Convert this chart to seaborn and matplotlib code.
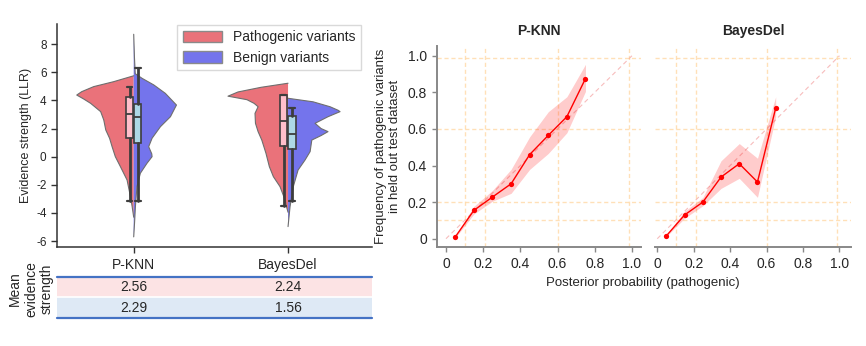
import numpy as np
import pandas as pd
import matplotlib
matplotlib.use("Agg")
import matplotlib.pyplot as plt
from matplotlib.patches import Patch
import seaborn as sns

# ---------------- data ----------------
tools = ["P-KNN", "BayesDel"]
groups = ["Pathogenic variants", "Benign variants"]

# violin half-profiles (LLR value, half width in category units)
pknn_path_y = [5.75, 5.33, 4.98, 4.62, 4.38, 4.1, 3.79, 3.2, 2.61, 1.9, 1.3, 0.71, 0.0, -0.71, -1.66, -2.84, -3.55, -4.3]
pknn_path_w = [0, 0.13, 0.259, 0.337, 0.369, 0.324, 0.279, 0.214, 0.194, 0.181, 0.156, 0.14, 0.119, 0.086, 0.043, 0.021, 0.01, 0]
pknn_ben_y = [8.7, 7.0, 5.9, 5.57, 5.1, 4.5, 3.67, 2.84, 2.13, 1.31, 0.71, 0.2, 0.0, -0.47, -1.18, -2.13, -3.55, -4.6, -5.7]
pknn_ben_w = [0, 0.005, 0.01, 0.054, 0.13, 0.205, 0.277, 0.238, 0.173, 0.119, 0.097, 0.117, 0.119, 0.086, 0.043, 0.021, 0.011, 0.006, 0]
bd_path_y = [5.22, 4.93, 4.6, 4.3, 4.05, 3.79, 3.55, 3.08, 2.37, 1.78, 1.18, 0.24, -0.71, -1.42, -2.13, -3.08, -3.55, -3.95]
bd_path_w = [0, 0.175, 0.324, 0.389, 0.266, 0.22, 0.194, 0.214, 0.211, 0.194, 0.17, 0.143, 0.121, 0.095, 0.052, 0.019, 0.01, 0]
bd_ben_y = [4.15, 3.9, 3.55, 3.3, 3.2, 2.84, 2.37, 2.0, 1.78, 1.5, 1.18, 0.36, -0.24, -0.95, -2.13, -3.55, -4.97]
bd_ben_w = [0, 0.162, 0.272, 0.324, 0.337, 0.259, 0.175, 0.214, 0.259, 0.214, 0.154, 0.143, 0.11, 0.065, 0.034, 0.013, 0]

# box stats: whisker low, Q1, median, Q3, whisker high
pknn_path_box = [-3.15, 1.31, 3.01, 4.22, 4.93]
pknn_ben_box = [-3.13, 0.95, 2.85, 3.72, 6.33]
bd_path_box = [-3.5, 0.78, 2.54, 4.38, 4.40]
bd_ben_box = [-3.13, 0.52, 1.61, 2.92, 3.49]

# mean evidence strength table
mean_path = [2.56, 2.24]
mean_ben = [2.29, 1.56]

# calibration curves
pknn_x = [0.05, 0.15, 0.25, 0.35, 0.45, 0.55, 0.65, 0.75]
pknn_y = [0.01, 0.155, 0.228, 0.30, 0.46, 0.565, 0.667, 0.875]
pknn_lo = [0.005, 0.135, 0.205, 0.248, 0.379, 0.466, 0.579, 0.805]
pknn_hi = [0.015, 0.177, 0.264, 0.379, 0.557, 0.694, 0.776, 0.953]
bd_x = [0.05, 0.15, 0.25, 0.35, 0.45, 0.55, 0.65]
bd_y = [0.016, 0.13, 0.20, 0.337, 0.41, 0.31, 0.714]
bd_lo = [0.012, 0.112, 0.18, 0.275, 0.33, 0.226, 0.667]
bd_hi = [0.02, 0.15, 0.225, 0.426, 0.52, 0.44, 0.776]

vlines = [0.1, 0.21, 0.6, 0.985]
hlines = [0.1, 0.2, 0.6, 0.99]
ticks01 = [0, 0.2, 0.4, 0.6, 0.8, 1.0]
tick01_labels = ["0", "0.2", "0.4", "0.6", "0.8", "1.0"]

# ---------------- style ----------------
sns.set_style("white")
plt.rcParams["font.family"] = ["Liberation Sans", "DejaVu Sans"]
plt.rcParams["axes.unicode_minus"] = False

RED = "#EA727A"
BLUE = "#7474EC"
EDGE = "#6e6e6e"
BOXC = "#3d3d3d"
GRIDC = "#FFD9A6"

fig = plt.figure(figsize=(8.66, 3.46), dpi=100)
W, H = 866.0, 346.0

def rect(l, t, r, b):
    return [l / W, 1 - b / H, (r - l) / W, (b - t) / H]

# ---------------- violin panel ----------------
ax = fig.add_axes(rect(57, 24, 372, 247))
profiles = [
    (0, pknn_path_y, pknn_path_w, -1, RED),
    (0, pknn_ben_y, pknn_ben_w, 1, BLUE),
    (1, bd_path_y, bd_path_w, -1, RED),
    (1, bd_ben_y, bd_ben_w, 1, BLUE),
]
for pos, ys, ws, side, col in profiles:
    ys = np.asarray(ys)
    ws = np.asarray(ws)
    outer = pos + side * ws
    ax.fill_betweenx(ys, pos, outer, facecolor=col, edgecolor="none", lw=0, zorder=1)
    ax.plot(outer, ys, color=EDGE, lw=0.8, zorder=2)

boxes = [
    (0 - 0.027, pknn_path_box, "#FFBFCB"),
    (0 + 0.027, pknn_ben_box, "#ADD8E6"),
    (1 - 0.028, bd_path_box, "#FFBFCB"),
    (1 + 0.025, bd_ben_box, "#ADD8E6"),
]
for pos, b, fc in boxes:
    st = [dict(whislo=b[0], q1=b[1], med=b[2], q3=b[3], whishi=b[4], fliers=[])]
    ax.bxp(st, positions=[pos], widths=0.047, patch_artist=True, showfliers=False,
           manage_ticks=False,
           boxprops=dict(facecolor=fc, edgecolor=BOXC, lw=1.2),
           whiskerprops=dict(color=BOXC, lw=2.0),
           capprops=dict(color=BOXC, lw=1.6),
           medianprops=dict(color=BOXC, lw=1.3), capwidths=0.035,
           zorder=3)

ax.set_xlim(-0.497, 1.544)
ax.set_ylim(-6.42, 9.43)
ax.set_yticks([-6, -4, -2, 0, 2, 4, 6, 8])
ax.set_xticks([0, 1])
ax.set_xticklabels(tools, fontsize=10)
ax.tick_params(axis="y", labelsize=8.5, length=4, width=1, color="#333333", left=True)
ax.tick_params(axis="x", length=4, width=1, color="#333333", bottom=True, pad=4)
ax.set_ylabel("Evidence strength (LLR)", fontsize=9, labelpad=3)
for s in ["top", "right"]:
    ax.spines[s].set_visible(False)
for s in ["left", "bottom"]:
    ax.spines[s].set_color("#333333")
    ax.spines[s].set_linewidth(1.1)
handles = [Patch(facecolor=RED, edgecolor="#8a8a8a", label=groups[0]),
           Patch(facecolor=BLUE, edgecolor="#8a8a8a", label=groups[1])]
leg = ax.legend(handles=handles, loc="upper right", bbox_to_anchor=(0.965, 0.996),
                borderaxespad=0, fontsize=10, handlelength=2.8, handleheight=0.9,
                frameon=True, fancybox=False, edgecolor="#d0d0d0", labelspacing=0.45)
leg.get_frame().set_linewidth(1.0)

# ---------------- table ----------------
tax = fig.add_axes(rect(57, 276.7, 372, 318))
tax.set_xlim(-0.497, 1.544)
tax.set_ylim(0, 2)
tax.axhspan(1, 2, color="#FCE3E4", lw=0)
tax.axhspan(0, 1, color="#DEE9F5", lw=0)
tax.axhline(1, color="white", lw=1.2)
tax.axhline(2, color="#4472C4", lw=1.6, clip_on=False)
tax.axhline(0, color="#4472C4", lw=1.6, clip_on=False)
for i in range(len(tools)):
    tax.text(i, 1.5, f"{mean_path[i]:.2f}", ha="center", va="center", fontsize=10)
    tax.text(i, 0.5, f"{mean_ben[i]:.2f}", ha="center", va="center", fontsize=10)
tax.axis("off")
fig.text(31 / W, 1 - 289 / H, "Mean\nevidence\nstrength", rotation=90, ha="center",
         va="center", fontsize=10, linespacing=1.15)

# ---------------- calibration panels ----------------
ax1 = fig.add_axes(rect(436.7, 45.7, 640.7, 247.3))
ax2 = fig.add_axes(rect(655, 45.7, 851, 247.3))
cal = [
    (ax1, "P-KNN", pknn_x, pknn_y, pknn_lo, pknn_hi, (-0.05, 1.047)),
    (ax2, "BayesDel", bd_x, bd_y, bd_lo, bd_hi, (-0.0126, 1.0635)),
]
for a, title, xs, ys, lo, hi, xl in cal:
    for v in vlines:
        a.axvline(v, color=GRIDC, lw=1.0, ls=(0, (3, 2)), alpha=0.8, zorder=0)
    for h in hlines:
        a.axhline(h, color=GRIDC, lw=1.0, ls=(0, (3, 2)), alpha=0.8, zorder=0)
    a.plot([0, 1], [0, 1], color="#F4A0A0", lw=0.8, ls=(0, (4, 3)), alpha=0.7, zorder=1)
    a.fill_between(xs, lo, hi, color="red", alpha=0.2, lw=0, zorder=2)
    df = pd.DataFrame({"x": xs, "y": ys})
    sns.lineplot(data=df, x="x", y="y", ax=a, color="red", lw=1.0, marker="o",
                 markersize=3.8, markeredgewidth=0, zorder=3)
    a.set_xlim(*xl)
    a.set_ylim(-0.047, 1.055)
    a.set_xticks(ticks01)
    a.set_xticklabels(tick01_labels)
    a.set_yticks(ticks01)
    a.set_yticklabels(tick01_labels)
    a.set_xlabel("")
    a.set_ylabel("")
    a.set_title(title, fontsize=10, fontweight="bold", pad=8)
    a.tick_params(labelsize=10, length=3.5, width=1, color="#888888", bottom=True, left=True)
    for s in ["top", "right"]:
        a.spines[s].set_visible(False)
    for s in ["left", "bottom"]:
        a.spines[s].set_color("#888888")
        a.spines[s].set_linewidth(1.4)

ax1.set_ylabel("Frequency of pathogenic variants\nin held out test dataset", fontsize=9.5,
               labelpad=5)
ax2.spines["left"].set_visible(False)
ax2.tick_params(axis="y", left=False, labelleft=False)
fig.text(642.8 / W, 1 - 283 / H, "Posterior probability (pathogenic)", ha="center",
         va="center", fontsize=9.5)

fig.savefig("out.png", dpi=100)
